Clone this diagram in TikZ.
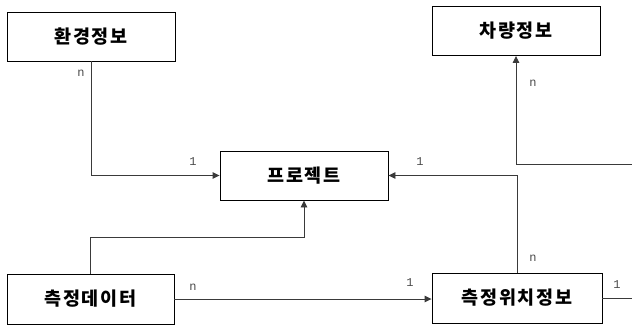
\documentclass[tikz,border=0pt]{standalone}
\usepackage{fontspec}
\newfontfamily\kr[LetterSpace=10]{Noto Sans CJK KR}
\newfontfamily\lab{Liberation Mono}
\usetikzlibrary{arrows.meta}
\definecolor{ln}{HTML}{3A3A3A}
\definecolor{lb}{HTML}{4A4A4A}
\tikzset{
  ent/.style={draw=black, line width=0.9pt, minimum width=168pt, minimum height=49pt, inner sep=0pt, font=\kr\bfseries\fontsize{18.5}{20}\selectfont, fill=white},
  conn/.style={draw=ln, line width=0.9pt},
  arr/.style={conn, -{Triangle[length=7pt,width=6.5pt]}},
  card/.style={text=lb, font=\lab\fontsize{12}{13}\selectfont, inner sep=0pt}
}
\begin{document}
\begin{tikzpicture}[x=1pt,y=-1pt]
\useasboundingbox (0,0) rectangle (632,325);
\clip (0,0) rectangle (632,325);
\node[ent] (env) at (91,36.5) {환경정보};
\node[ent] (car) at (516,31) {차량정보};
\node[ent] (proj) at (304,175.5) {프로젝트};
\node[ent, minimum width=167pt, minimum height=50pt] (meas) at (90.5,299) {측정데이터};
\node[ent, minimum width=170pt, minimum height=50pt] (loc) at (517,298) {측정위치정보};
\coordinate (mj) at (304,237);
\coordinate (rt) at (634,164);
\draw[arr] (env.south) |- (proj.west);
\draw[arr] (loc.north) |- (proj.east);
\draw[arr] (meas.north) |- (mj) -- (proj.south);
\draw[arr] (meas.east) -- (meas.east -| loc.west);
\draw[arr] (loc.east) -| (rt) -| (car.south);
\node[card] at (81,73) {n};
\node[card] at (193,162) {1};
\node[card] at (420,162) {1};
\node[card] at (533,258) {n};
\node[card] at (533,83) {n};
\node[card] at (617,285) {1};
\node[card] at (193,287) {n};
\node[card] at (410,283) {1};
\end{tikzpicture}
\end{document}
